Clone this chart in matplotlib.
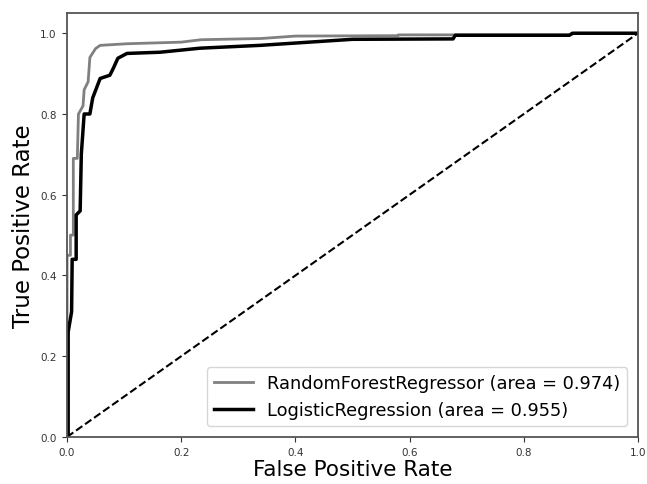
import matplotlib
matplotlib.use("Agg")
import matplotlib.pyplot as plt

rf_label = "RandomForestRegressor (area = 0.974)"
lr_label = "LogisticRegression (area = 0.955)"

rf_fpr = [0.0, 0.0, 0.006, 0.006, 0.011, 0.011, 0.018, 0.02, 0.028, 0.03, 0.037, 0.04,
          0.05, 0.058, 0.105, 0.2, 0.235, 0.34, 0.4, 0.58, 0.58, 0.88, 0.89, 1.0]
rf_tpr = [0.0, 0.45, 0.45, 0.50, 0.50, 0.69, 0.69, 0.80, 0.82, 0.86, 0.88, 0.94,
          0.962, 0.97, 0.974, 0.978, 0.984, 0.987, 0.993, 0.994, 0.996, 0.996, 1.0, 1.0]

lr_fpr = [0.0, 0.002, 0.002, 0.008, 0.009, 0.016, 0.016, 0.023, 0.025, 0.03, 0.04, 0.045,
          0.058, 0.075, 0.081, 0.089, 0.105, 0.163, 0.233, 0.338, 0.5, 0.676, 0.68, 0.88, 0.885, 1.0]
lr_tpr = [0.0, 0.0, 0.26, 0.31, 0.44, 0.44, 0.55, 0.56, 0.70, 0.80, 0.80, 0.84,
          0.888, 0.896, 0.913, 0.938, 0.95, 0.953, 0.963, 0.97, 0.985, 0.986, 0.995, 0.995, 1.0, 1.0]

diag = [0.0, 1.0]

fig = plt.figure(figsize=(6.47, 4.85), dpi=100)
ax = fig.add_axes([0.1036, 0.097, 0.8825, 0.874])

ax.plot(rf_fpr, rf_tpr, color="#808080", lw=2.0, label=rf_label)
ax.plot(lr_fpr, lr_tpr, color="black", lw=2.5, label=lr_label)
ax.plot(diag, diag, color="black", lw=1.5, linestyle="--")

ax.set_xlim(0.0, 1.0)
ax.set_ylim(0.0, 1.05)
ax.set_xticks([0.0, 0.2, 0.4, 0.6, 0.8, 1.0])
ax.set_yticks([0.0, 0.2, 0.4, 0.6, 0.8, 1.0])
ax.tick_params(labelsize=7.5, colors="#333333", length=3.5, pad=4)
ax.set_xlabel("False Positive Rate", fontsize=15.5, labelpad=1)
ax.set_ylabel("True Positive Rate", fontsize=16.5, labelpad=4)
for s in ax.spines.values():
    s.set_color("#555555")
    s.set_linewidth(1.3)

ax.legend(loc="lower right", fontsize=12.8, frameon=True, handlelength=2.2,
          borderaxespad=0.6)

fig.savefig("out.png", dpi=100)
